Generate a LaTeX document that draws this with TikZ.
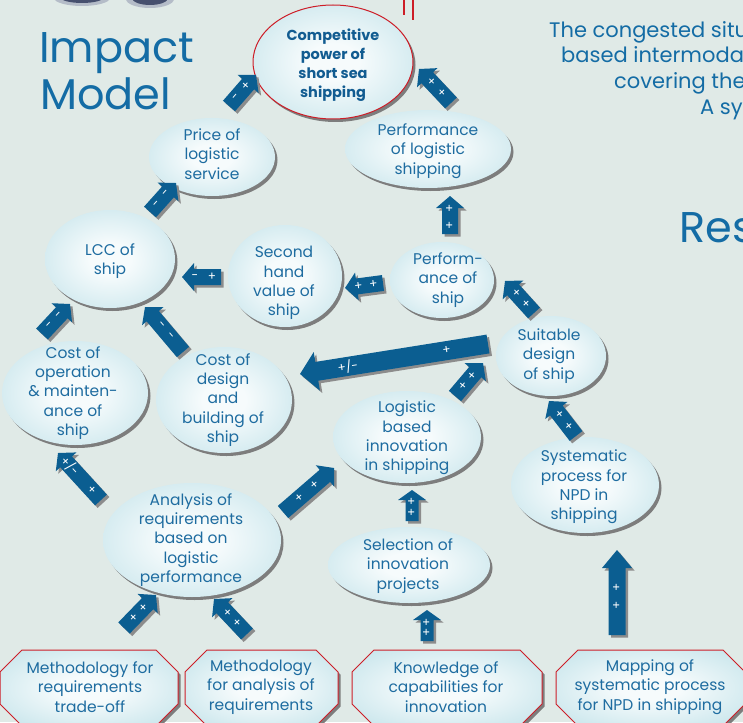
\documentclass[tikz,border=0pt]{standalone}
\usepackage{fontspec}
\setmainfont{Poppins}
\usetikzlibrary{shapes.geometric,shadows}
\definecolor{bg}{RGB}{224,234,231}
\definecolor{tblue}{RGB}{30,108,160}
\definecolor{hblue}{RGB}{20,108,165}
\definecolor{dblue}{RGB}{18,92,145}
\definecolor{abody}{RGB}{11,94,145}
\definecolor{ashadow}{RGB}{140,140,140}
\definecolor{eshadow}{RGB}{125,125,125}
\definecolor{ecenter}{RGB}{246,251,252}
\definecolor{eedge}{RGB}{168,214,224}
\definecolor{redline}{RGB}{205,30,40}
\definecolor{blob}{RGB}{70,80,110}
\definecolor{blobhalo}{RGB}{180,188,200}
\pgfdeclareradialshading{ellsh}{\pgfpoint{0bp}{0bp}}{color(0bp)=(ecenter); color(8bp)=(ecenter); color(50bp)=(eedge); color(100bp)=(eedge)}
\tikzset{
  ell/.style={ellipse, shading=ellsh, inner sep=0pt,
    drop shadow={shadow xshift=2.5pt, shadow yshift=-3pt, fill=eshadow, opacity=1}},
  etext/.style={text=tblue, align=center, inner sep=0pt, font=\fontsize{15.5}{19.3}\selectfont},
  btext/.style={text=dblue, align=center, inner sep=0pt, font=\fontsize{14.5}{19}\selectfont\bfseries},
  otext/.style={text=tblue, align=center, inner sep=0pt, font=\fontsize{15.5}{19.5}\selectfont},
  bigtext/.style={text=hblue, inner sep=0pt, font=\fontsize{43}{47}\selectfont},
  sidetext/.style={text=hblue, inner sep=0pt, font=\fontsize{21}{25}\selectfont},
  alabel/.style={text=white, inner sep=0pt, font=\fontsize{12}{12}\selectfont},
}
\newcommand\asize[3]{\def\abw{#1}\def\ahw{#2}\def\ahl{#3}}
\newcommand\barrow[8]{%
  \pgfmathsetmacro\aang{atan2(-((#5)-(#3)),(#4)-(#2))}%
  \pgfmathsetmacro\alen{veclen((#4)-(#2),(#5)-(#3))}%
  \pgfmathsetmacro\abl{\alen-\ahl}%
  \pgfmathsetmacro\amid{(\alen-\ahl/2)/2+1}%
  \pgfmathsetmacro\alrot{\aang>90 ? \aang-180 : (\aang<-90 ? \aang+180 : \aang)}%
  \begin{scope}[shift={(#2+2.5,#3+2.5)},rotate=\aang]
    \fill[ashadow] (0,-\abw) -- (\abl,-\abw) -- (\abl,-\ahw) -- (\alen,0) -- (\abl,\ahw) -- (\abl,\abw) -- (0,\abw) -- cycle;
  \end{scope}
  \begin{scope}[shift={(#2,#3)},rotate=\aang]
    \fill[abody] (0,-\abw) -- (\abl,-\abw) -- (\abl,-\ahw) -- (\alen,0) -- (\abl,\ahw) -- (\abl,\abw) -- (0,\abw) -- cycle;
    \node[alabel,rotate=\alrot] (#1h) at (\amid+#8/2,0) {#6};
    \node[alabel,rotate=\alrot] (#1t) at (\amid-#8/2,0) {#7};
  \end{scope}}
\newcommand\octo[4]{%
  \fill[eshadow] (#1+22+2.5,#3+2.5) -- (#2-22+2.5,#3+2.5) -- (#2+2.5,#3+22+2.5) -- (#2+2.5,#4-22+2.5) -- (#2-22+2.5,#4+2.5) -- (#1+22+2.5,#4+2.5) -- (#1+2.5,#4-22+2.5) -- (#1+2.5,#3+22+2.5) -- cycle;
  \path[shading=ellsh, draw=redline, line width=1pt] (#1+22,#3) -- (#2-22,#3) -- (#2,#3+22) -- (#2,#4-22) -- (#2-22,#4) -- (#1+22,#4) -- (#1,#4-22) -- (#1,#3+22) -- cycle;}
\begin{document}
\begin{tikzpicture}[x=1pt,y=-1pt]
\useasboundingbox (0,0) rectangle (743,722);
\clip (0,0) rectangle (743,722);
\fill[bg] (0,0) rectangle (743,722);
% top decorations
\fill[blobhalo] (82,-2) ellipse [x radius=28, y radius=8];
\fill[blob] (82,-3) ellipse [x radius=22, y radius=6];
\fill[blobhalo] (150,-1) ellipse [x radius=24, y radius=9];
\fill[blob] (150,-2) ellipse [x radius=18, y radius=7];
\draw[redline, line width=2pt] (404,0) -- (404,15);
\draw[redline, line width=2pt] (413,0) -- (413,20);
% titles
\node[bigtext, anchor=base west] (t1) at (39,63) {Impact};
\node[bigtext, anchor=base west] (t2) at (40,110) {Model};
\node[bigtext, anchor=base west] (t3) at (679,242) {Res};
\node[sidetext, anchor=base west] (s1) at (549,38) {The congested situ};
\node[sidetext, anchor=base west] (s2) at (561,63) {based intermodal};
\node[sidetext, anchor=base west] (s3) at (614,89) {covering the};
\node[sidetext, anchor=base west] (s4) at (700,115) {A sy};
% ellipses
\node[ell, draw=redline, line width=1pt, minimum width=160pt, minimum height=114pt] (comp) at (333,62) {};
\node[ell, minimum width=126pt, minimum height=78pt] (price) at (212,157) {};
\node[ell, minimum width=166pt, minimum height=78pt] (perflog) at (428,149) {};
\node[ell, minimum width=130pt, minimum height=98pt] (lcc) at (110,259) {};
\node[ell, minimum width=114pt, minimum height=102pt] (second) at (285,276) {};
\node[ell, minimum width=104pt, minimum height=76pt] (perfship) at (442,280) {};
\node[ell, minimum width=110pt, minimum height=80pt] (suit) at (551,356) {};
\node[ell, minimum width=146pt, minimum height=104pt] (costop) at (75,393) {};
\node[ell, minimum width=136pt, minimum height=106pt] (costdes) at (224,400) {};
\node[ell, minimum width=148pt, minimum height=92pt] (loginn) at (407,437) {};
\node[ell, minimum width=148pt, minimum height=96pt] (syst) at (585,485) {};
\node[ell, minimum width=178pt, minimum height=114pt] (anal) at (192,540) {};
\node[ell, minimum width=162pt, minimum height=76pt] (sel) at (409,565) {};
% ellipse texts
\node[btext] (compt) at (333,65) {Competitive\\power of\\short sea\\shipping};
\node[etext] (pricet) at (212,154) {Price of\\logistic\\service};
\node[etext] (perflogt) at (428,151) {Performance\\of logistic\\shipping};
\node[etext] (lcct) at (110,261) {LCC of\\ship};
\node[etext] (secondt) at (284,283) {Second\\hand\\value of\\ship};
\node[etext] (perfshipt) at (448,280) {Perform-\\ance of\\ship};
\node[etext] (suitt) at (549,356) {Suitable\\design\\of ship};
\node[etext] (costopt) at (73,393) {Cost of\\operation\\\& mainten-\\ance of\\ship};
\node[etext] (costdest) at (223,400) {Cost of\\design\\and\\building of\\ship};
\node[etext] (loginnt) at (407,438) {Logistic\\based\\innovation\\in shipping};
\node[etext] (systt) at (584,487) {Systematic\\process for\\NPD in\\shipping};
\node[etext] (analt) at (191,540) {Analysis of\\requirements\\based on\\logistic\\performance};
\node[etext] (selt) at (408,566) {Selection of\\innovation\\projects};
% octagons
\octo{0}{178}{650}{726}
\octo{185}{338}{650}{726}
\octo{352}{542}{650}{726}
\octo{556}{745}{650}{726}
\node[otext] (o1) at (90,687) {Methodology for\\requirements\\trade-off};
\node[otext] (o2) at (261,687) {Methodology\\for analysis of\\requirements};
\node[otext] (o3) at (446,687) {Knowledge of\\capabilities for\\innovation};
\node[otext] (o4) at (650,687) {Mapping of\\systematic process\\for NPD in shipping};
% arrows
\asize{8}{14}{12}
\barrow{a1}{229}{106}{256}{75}{+}{-}{15}
\barrow{a2}{451}{103}{419}{69}{+}{+}{15}
\barrow{a3}{150}{212}{176}{183}{-}{-}{14}
\barrow{a4}{450}{234}{450}{196}{+}{+}{17}
\barrow{a5}{221}{277}{182}{277}{-}{+}{17}
\barrow{a6}{383}{283}{345}{288}{+}{+}{15}
\barrow{a7}{534}{313}{505}{281}{+}{+}{14}
\barrow{a8}{42}{334}{70}{304}{-}{-}{14}
\barrow{a9}{183}{352}{145}{307}{-}{-}{14}
\barrow{a11}{455}{396}{483}{363}{+}{+}{14}
\barrow{a12}{576}{436}{549}{401}{+}{+}{15}
\barrow{a13}{101}{500}{58}{453}{+/-}{+}{32}
\barrow{a14}{283}{512}{334}{468}{+}{+}{20}
\barrow{a18}{124}{628}{156}{595}{+}{+}{14}
\barrow{a19}{247}{634}{214}{599}{+}{+}{14}
\asize{9.5}{19.5}{17}
\barrow{a10}{488}{344}{300}{374}{+/-}{+}{100}
\asize{6.5}{14}{10}
\barrow{a15}{412}{521}{412}{490}{+}{+}{11}
\barrow{a16}{427}{641}{427}{610}{+}{+}{10}
\asize{8.5}{15}{18}
\barrow{a17}{617}{635}{617}{550}{+}{+}{18}
\end{tikzpicture}
\end{document}
